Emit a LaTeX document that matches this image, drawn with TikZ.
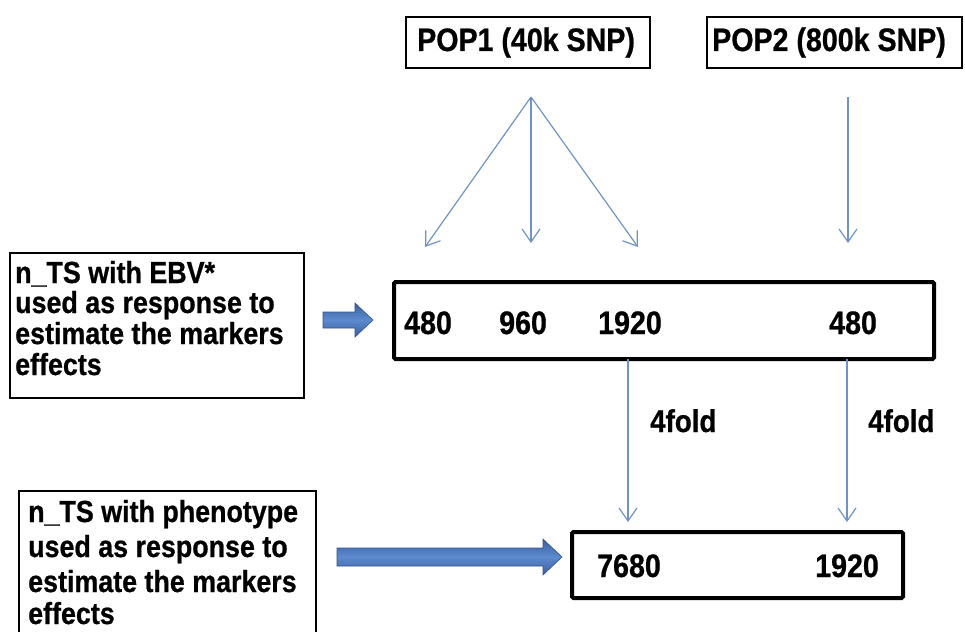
\documentclass[tikz,border=0pt]{standalone}
\usepackage{fontspec}
\newfontfamily\lf[FakeStretch=0.88, BoldFeatures={FakeBold=0.7}]{Liberation Sans}
\usetikzlibrary{arrows.meta}
\definecolor{thinblue}{RGB}{112,146,198}
\definecolor{blkA}{RGB}{58,96,160}
\definecolor{blkB}{RGB}{92,138,206}
\definecolor{blkE}{RGB}{52,84,138}
\begin{document}
\begin{tikzpicture}[x=1pt,y=-1pt,
  thinbox/.style={draw=black, line width=1.4pt, inner sep=0pt, outer sep=0pt, anchor=north west},
  bigbox/.style={draw=black, line width=4pt, rounded corners=1.5pt, inner sep=0pt, outer sep=0pt, anchor=north west},
  lbl/.style={font=\lf\bfseries\fontsize{32.5}{32}\selectfont, inner sep=0pt, anchor=base west},
  btxt/.style={font=\lf\bfseries\fontsize{30.5}{30}\selectfont, inner sep=0pt, anchor=base west},
  thinarrow/.style={draw=thinblue, line width=1.2pt, -{Straight Barb[length=13pt,width=18pt,line width=1.2pt]}},
  blockarrow/.style={top color=blkA, bottom color=blkA, middle color=blkB, draw=blkE, line width=0.6pt}
]
\useasboundingbox (0,0) rectangle (965,631);
\fill[white] (0,0) rectangle (965,631);

% top boxes
\node[thinbox, minimum width=244pt, minimum height=51pt] (pop1) at (406,17) {};
\node[lbl] (pop1t) at (417,51) {POP1 (40k SNP)};
\node[thinbox, minimum width=255pt, minimum height=51pt] (pop2) at (707,17) {};
\node[lbl] (pop2t) at (712,51) {POP2 (800k SNP)};

% middle box
\node[bigbox, minimum width=540pt, minimum height=77pt] (mid) at (394,282) {};
\node[lbl] (n480a) at (404,334) {480};
\node[lbl] (n960) at (499,334) {960};
\node[lbl] (n1920a) at (598,334) {1920};
\node[lbl] (n480b) at (829,334) {480};

% lower box
\node[bigbox, minimum width=331pt, minimum height=66pt] (low) at (572,532) {};
\node[lbl] (n7680) at (597,577) {7680};
\node[lbl] (n1920b) at (815,577) {1920};

% left box 1
\node[thinbox, minimum width=294pt, minimum height=145pt] (lb1) at (10,253) {};
\node[btxt] (l1a) at (15,283) {n\_TS with EBV*};
\node[btxt] (l1b) at (15,313) {used as response to};
\node[btxt] (l1c) at (15,344) {estimate the markers};
\node[btxt] (l1d) at (15,375) {effects};

% left box 2
\node[thinbox, minimum width=297pt, minimum height=160pt] (lb2) at (19,491) {};
\node[btxt] (l2a) at (28,522) {n\_TS with phenotype};
\node[btxt] (l2b) at (28,557) {used as response to};
\node[btxt] (l2c) at (28,592) {estimate the markers};
\node[btxt] (l2d) at (28,624) {effects};

% fold labels
\node[lbl, font=\lf\bfseries\fontsize{31.5}{31}\selectfont] (f1) at (650,432) {4fold};
\node[lbl, font=\lf\bfseries\fontsize{31.5}{31}\selectfont] (f2) at (868,432) {4fold};

% coordinates for thin arrows
\coordinate (apex) at (531,97);
\coordinate (t1) at (425,247);
\coordinate (t2) at (531,243);
\coordinate (t3) at (638,247);
\coordinate (p2s) at (848,97);
\coordinate (p2e) at (848,243);
\coordinate (d1s) at (628,359);
\coordinate (d1e) at (628,522);
\coordinate (d2s) at (847,359);
\coordinate (d2e) at (847,522);

\draw[thinarrow] (apex) -- (t1);
\draw[thinarrow] (apex) -- (t2);
\draw[thinarrow] (apex) -- (t3);
\draw[thinarrow] (p2s) -- (p2e);
\draw[thinarrow] (d1s) -- (d1e);
\draw[thinarrow] (d2s) -- (d2e);

% block arrows
\shade[blockarrow] (323,312) -- (355,312) -- (355,303) -- (373,320) -- (355,337) -- (355,328) -- (323,328) -- cycle;
\shade[blockarrow] (337,548) -- (543,548) -- (543,539) -- (562,557) -- (543,575) -- (543,566) -- (337,566) -- cycle;
\end{tikzpicture}
\end{document}
